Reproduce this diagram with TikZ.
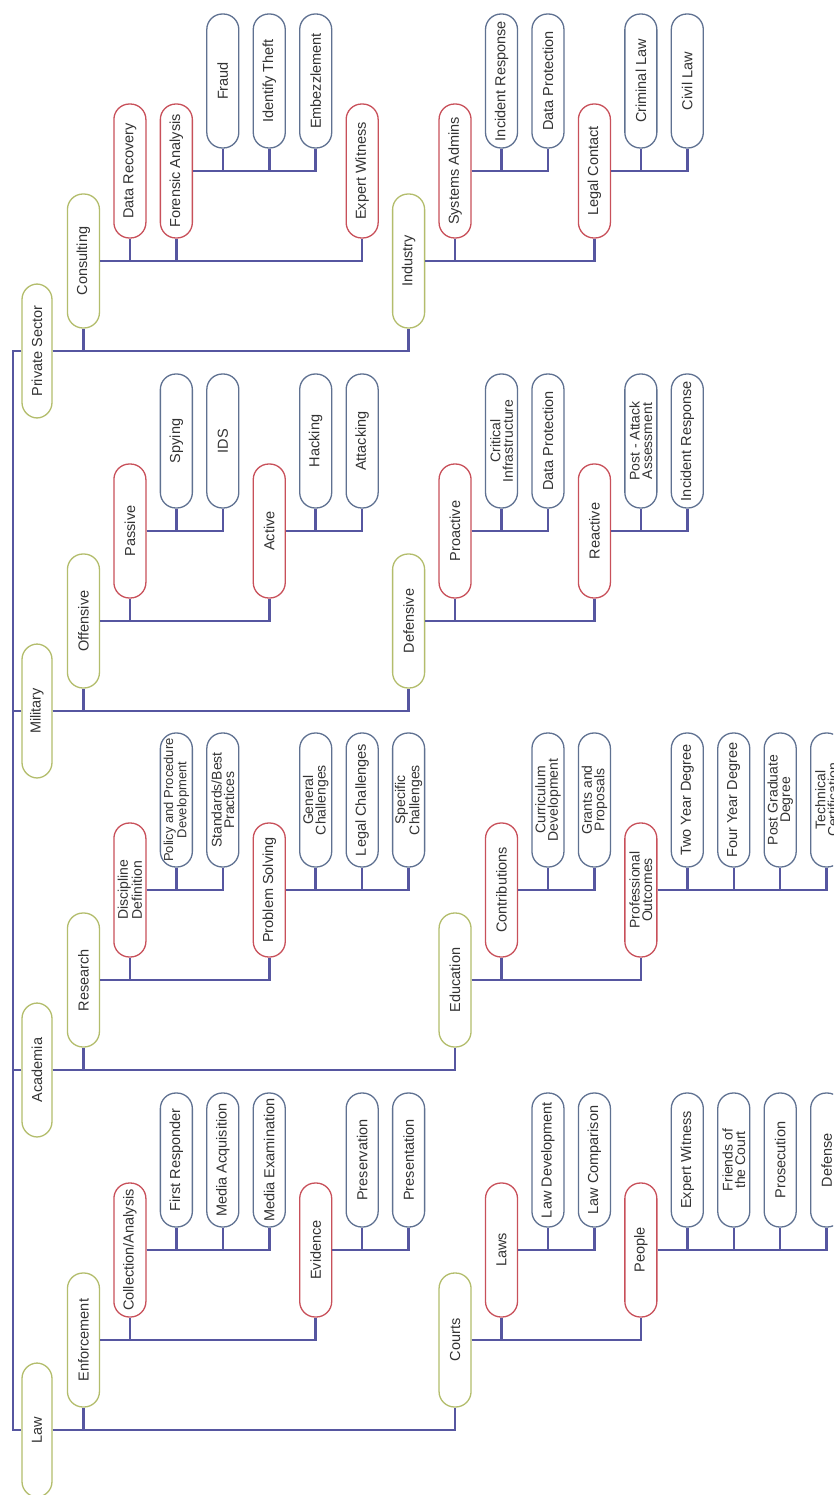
\documentclass[tikz,border=0pt]{standalone}
\usepackage{fontspec}
\setmainfont{Liberation Sans}
\definecolor{cgreen}{HTML}{B3BD6C}
\definecolor{cred}{HTML}{C8505A}
\definecolor{cblue}{HTML}{5F7191}
\definecolor{cconn}{HTML}{5656A0}
\definecolor{ctext}{HTML}{333333}
\newcommand\mybox[6]{\node[#5] (#1) at ({37+46.45*#2},{#3-90*(#4-1)}) {#6};}
\newcommand\kids[2]{\foreach \c in {#2} {\draw[conn] (#1.south) -| (\c.west);}}
\begin{document}
\begin{tikzpicture}[x=1pt,y=-1pt,
  box/.style={draw, rotate=90, rounded corners=15.5pt, minimum width=134pt, minimum height=32pt,
    inner sep=1pt, line width=1.3pt, fill=white, align=center, text=ctext,
    font=\fontsize{14.5}{13}\selectfont},
  lone/.style={box, draw=cgreen, minimum height=30pt},
  ltwo/.style={box, draw=cgreen},
  lthree/.style={box, draw=cred},
  lfour/.style={box, draw=cblue},
  small/.style={font=\fontsize{14}{12.5}\selectfont},
  conn/.style={draw=cconn, line width=2.5pt}]
\clip (0,0) rectangle (833,1495);
\fill[white] (0,0) rectangle (833,1495);
% ---------- Private Sector ----------
\mybox{PS}{0}{351}{1}{lone}{Private Sector}
\mybox{Cons}{1}{351}{2}{ltwo}{Consulting}
\mybox{DR}{2}{351}{3}{lthree}{Data Recovery}
\mybox{FA}{3}{351}{3}{lthree}{Forensic Analysis}
\mybox{Fraud}{4}{351}{4}{lfour}{Fraud}
\mybox{IdT}{5}{351}{4}{lfour}{Identify Theft}
\mybox{Emb}{6}{351}{4}{lfour}{Embezzlement}
\mybox{EW}{7}{351}{3}{lthree}{Expert Witness}
\mybox{Ind}{8}{351}{2}{ltwo}{Industry}
\mybox{SA}{9}{351}{3}{lthree}{Systems Admins}
\mybox{IR}{10}{351}{4}{lfour}{Incident Response}
\mybox{DP}{11}{351}{4}{lfour}{Data Protection}
\mybox{LC}{12}{351}{3}{lthree}{Legal Contact}
\mybox{CrL}{13}{351}{4}{lfour}{Criminal Law}
\mybox{CvL}{14}{351}{4}{lfour}{Civil Law}
\kids{PS}{Cons,Ind}
\kids{Cons}{DR,FA,EW}
\kids{FA}{Fraud,IdT,Emb}
\kids{Ind}{SA,LC}
\kids{SA}{IR,DP}
\kids{LC}{CrL,CvL}
% ---------- Military ----------
\mybox{Mil}{0}{711}{1}{lone}{Military}
\mybox{Off}{1}{711}{2}{ltwo}{Offensive}
\mybox{Pas}{2}{711}{3}{lthree}{Passive}
\mybox{Spy}{3}{711}{4}{lfour}{Spying}
\mybox{IDS}{4}{711}{4}{lfour}{IDS}
\mybox{Act}{5}{711}{3}{lthree}{Active}
\mybox{Hack}{6}{711}{4}{lfour}{Hacking}
\mybox{Att}{7}{711}{4}{lfour}{Attacking}
\mybox{Def}{8}{711}{2}{ltwo}{Defensive}
\mybox{Pro}{9}{711}{3}{lthree}{Proactive}
\mybox{CI}{10}{711}{4}{lfour,small}{Critical\\Infrastructure}
\mybox{DPm}{11}{711}{4}{lfour}{Data Protection}
\mybox{Rea}{12}{711}{3}{lthree}{Reactive}
\mybox{PAA}{13}{711}{4}{lfour,small}{Post - Attack\\Assessment}
\mybox{IRm}{14}{711}{4}{lfour}{Incident Response}
\kids{Mil}{Off,Def}
\kids{Off}{Pas,Act}
\kids{Pas}{Spy,IDS}
\kids{Act}{Hack,Att}
\kids{Def}{Pro,Rea}
\kids{Pro}{CI,DPm}
\kids{Rea}{PAA,IRm}
% ---------- Academia ----------
\mybox{Aca}{0}{1070}{1}{lone}{Academia}
\mybox{Res}{1}{1070}{2}{ltwo}{Research}
\mybox{DD}{2}{1070}{3}{lthree,small}{Discipline\\Definition}
\mybox{PPD}{3}{1070}{4}{lfour,font=\fontsize{13}{11.5}\selectfont}{Policy and Procedure\\Development}
\mybox{SBP}{4}{1070}{4}{lfour,small}{Standards/Best\\Practices}
\mybox{PSo}{5}{1070}{3}{lthree}{Problem Solving}
\mybox{GC}{6}{1070}{4}{lfour,small}{General\\Challenges}
\mybox{LCh}{7}{1070}{4}{lfour}{Legal Challenges}
\mybox{SC}{8}{1070}{4}{lfour,small}{Specific\\Challenges}
\mybox{Edu}{9}{1070}{2}{ltwo}{Education}
\mybox{Con}{10}{1070}{3}{lthree}{Contributions}
\mybox{CD}{11}{1070}{4}{lfour,small}{Curriculum\\Development}
\mybox{GP}{12}{1070}{4}{lfour,small}{Grants and\\Proposals}
\mybox{PO}{13}{1070}{3}{lthree,small}{Professional\\Outcomes}
\mybox{TYD}{14}{1070}{4}{lfour}{Two Year Degree}
\mybox{FYD}{15}{1070}{4}{lfour}{Four Year Degree}
\mybox{PGD}{16}{1070}{4}{lfour,small}{Post Graduate\\Degree}
\mybox{TC}{17}{1070}{4}{lfour,small}{Technical\\Certification}
\kids{Aca}{Res,Edu}
\kids{Res}{DD,PSo}
\kids{DD}{PPD,SBP}
\kids{PSo}{GC,LCh,SC}
\kids{Edu}{Con,PO}
\kids{Con}{CD,GP}
\kids{PO}{TYD,FYD,PGD,TC}
% ---------- Law ----------
\mybox{Law}{0}{1430}{1}{lone}{Law}
\mybox{Enf}{1}{1430}{2}{ltwo}{Enforcement}
\mybox{CA}{2}{1430}{3}{lthree}{Collection/Analysis}
\mybox{FR}{3}{1430}{4}{lfour}{First Responder}
\mybox{MA}{4}{1430}{4}{lfour}{Media Acquisition}
\mybox{ME}{5}{1430}{4}{lfour}{Media Examination}
\mybox{Evi}{6}{1430}{3}{lthree}{Evidence}
\mybox{Pres}{7}{1430}{4}{lfour}{Preservation}
\mybox{Pren}{8}{1430}{4}{lfour}{Presentation}
\mybox{Crt}{9}{1430}{2}{ltwo}{Courts}
\mybox{Laws}{10}{1430}{3}{lthree}{Laws}
\mybox{LD}{11}{1430}{4}{lfour}{Law Development}
\mybox{LCo}{12}{1430}{4}{lfour}{Law Comparison}
\mybox{Peo}{13}{1430}{3}{lthree}{People}
\mybox{EWl}{14}{1430}{4}{lfour}{Expert Witness}
\mybox{FoC}{15}{1430}{4}{lfour,small}{Friends of\\the Court}
\mybox{Pros}{16}{1430}{4}{lfour}{Prosecution}
\mybox{Dfn}{17}{1430}{4}{lfour}{Defense}
\kids{Law}{Enf,Crt}
\kids{Enf}{CA,Evi}
\kids{CA}{FR,MA,ME}
\kids{Evi}{Pres,Pren}
\kids{Crt}{Laws,Peo}
\kids{Laws}{LD,LCo}
\kids{Peo}{EWl,FoC,Pros,Dfn}
% ---------- root ----------
\coordinate (rt) at (13,351);
\coordinate (rb) at (13,1430);
\draw[conn] (PS.north) -- (rt) -- (rb) -- (Law.north);
\draw[conn] (Mil.north) -- (Mil.north -| rt);
\draw[conn] (Aca.north) -- (Aca.north -| rt);
\end{tikzpicture}
\end{document}
